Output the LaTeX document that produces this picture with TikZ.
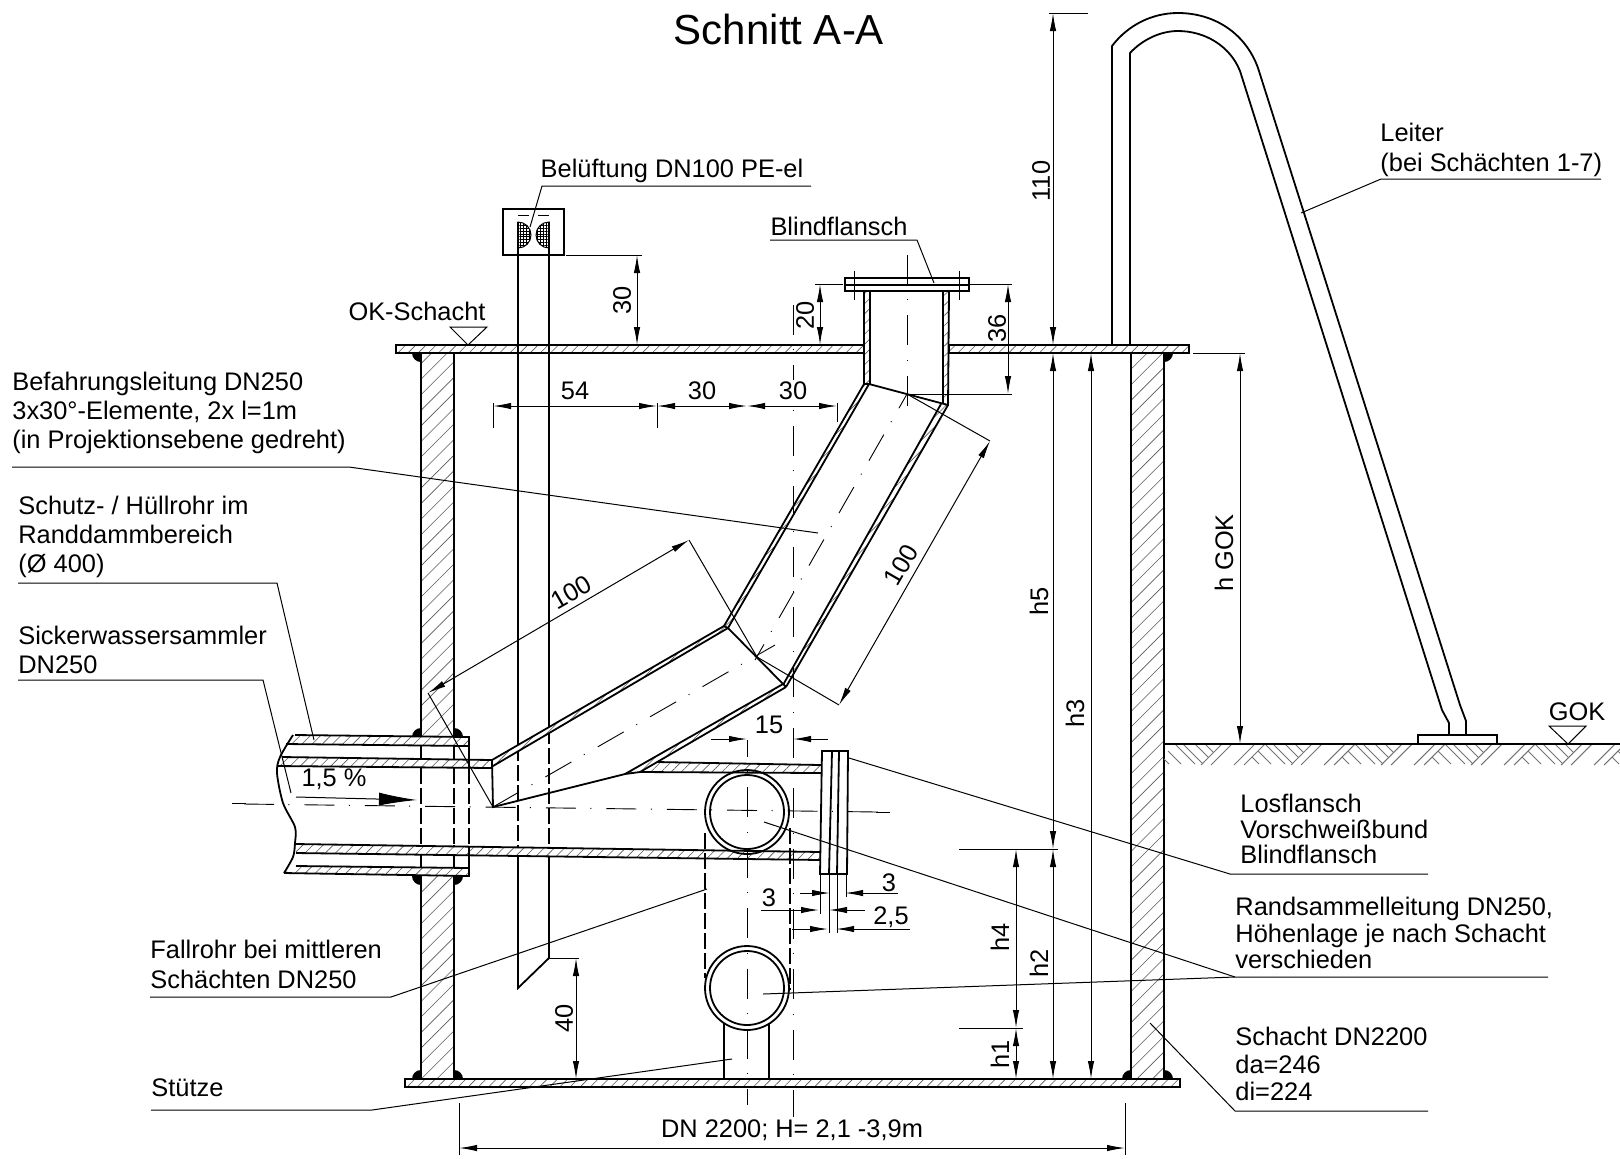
\documentclass[tikz,border=0pt]{standalone}
\usepackage{fontspec}
\setmainfont{Liberation Sans}
\usetikzlibrary{arrows.meta,patterns.meta}
\def\weldmark(#1){\fill (#1) circle (9);}
\tikzset{
	wall/.style={line width=0.9pt},
	thinline/.style={line width=0.5pt},
	dimline/.style={line width=0.5pt, {Latex[length=9pt,width=3.2pt]}-{Latex[length=9pt,width=3.2pt]}},
	dimtip/.style={line width=0.5pt, -{Latex[length=9pt,width=3.2pt]}},
	axisline/.style={line width=0.45pt, dash pattern=on 15pt off 7.2pt on 0.5pt off 7.5pt},
	hiddenline/.style={line width=0.8pt, dash pattern=on 8pt off 2pt},
	hatchwide/.style={preaction={fill=white}, pattern={Lines[angle=45,distance=5.5pt,line width=0.3pt]}, pattern color=black!65},
	hatchtight/.style={preaction={fill=white}, pattern={Lines[angle=45,distance=3.6pt,line width=0.3pt]}, pattern color=black!65},
	meshfill/.style={pattern={Hatch[angle=0,distance=1.4pt,line width=0.45pt]}, pattern color=black},
	soil/.style={line width=0.5pt, black!55},
	lbl/.style={inner sep=0pt, font=\fontsize{12.7}{14.5}\selectfont},
	txt/.style={lbl, anchor=west, align=left},
}
\begin{document}
\begin{tikzpicture}[x=0.5pt,y=-0.5pt]
	\useasboundingbox (0,0) rectangle (1620,1158);
	
	%%%%% shaft %%%%%
	\weldmark(421,353)
	\weldmark(454,1079)
	\weldmark(421,1079)
	\weldmark(1164,353)
	\weldmark(1131,1079)
	\weldmark(1164,1079)
	\weldmark(421,737)
	\weldmark(454,737)
	\weldmark(421,876)
	\weldmark(454,876)
	
	\fill[hatchwide] (421,353) rectangle (454,737);
	\fill[hatchwide] (421,876) rectangle (454,1079);
	\draw[wall] (421,353) -- (421,768);
	\draw[hiddenline] (421,768) -- (421,845);
	\draw[wall] (421,845) -- (421,1079);
	\draw[wall] (454,353) -- (454,768);
	\draw[hiddenline] (454,768) -- (454,845);
	\draw[wall] (454,845) -- (454,1079);
	\draw[wall, hatchwide] (1131,353) rectangle (1164,1079);
	
	\draw[wall, hatchtight] (396,345) rectangle (864,353);
	\draw[wall, hatchtight] (949,345) rectangle (1189,353);
	\draw[wall, hatchtight] (405,1079) rectangle (1180,1087);
	
	%%%%% ground %%%%%
	\begin{scope}
		\clip (1164,744) rectangle (1620,765);
		\foreach \i in {0,...,5} {
			\begin{scope}[shift={(1175+90*\i,744)}]
				\draw[soil] (0,0) -- ++(20,20);
				\draw[soil] (8,0) -- ++(20,20);
				\draw[soil] (20,0) -- ++(13.5,13.5);
				\draw[soil] (30,0) -- ++(8.5,8.5);
				\draw[soil] (-7,7) -- ++(13,13);
				\draw[soil] (-13,13) -- ++(7,7);
				\foreach \d in {47,57,80,90}
					\draw[soil] (\d,0) -- ++(-21,21);
			\end{scope}
		}
	\end{scope}
	\draw[wall] (1164,744) -- (1620,744);
	\draw[wall] (1418,744) -- (1418,735) -- (1497,735) -- (1497,744);
	
	%%%%% ladder %%%%%
	\draw[wall] (1112,345) -- (1112,46) .. controls (1128,25) and (1152,13) .. (1178,13) .. controls (1213,13) and (1245,32) .. (1258,68) -- (1460,705) -- (1466,721) -- (1466,735);
	\draw[wall] (1130,345) -- (1130,53) .. controls (1142,40) and (1160,31) .. (1178,31) .. controls (1205,31) and (1230,46) .. (1240,71) -- (1442,710) -- (1449,723) -- (1449,735);
	
	%%%%% vent pipe %%%%%
	\draw[wall] (503,209) rectangle (564,255);
	\draw[wall] (518,222) -- (518,745);
	\draw[wall] (549,222) -- (549,728);
	\draw[hiddenline, line width=0.55pt] (518,745) -- (518,850);
	\draw[hiddenline, line width=0.55pt] (549,728) -- (549,850);
	\draw[wall] (518,850) -- (518,988) -- (549,958) -- (549,850);
	\draw[thinline] (518,215) -- (529,215);
	\draw[thinline] (538,215) -- (549,215);
	\draw[thinline, meshfill] (518,222) arc (-90:90:13) -- cycle;
	\draw[thinline, meshfill] (549,222) arc (-90:-270:13) -- cycle;
	
	%%%%% sleeve and collector %%%%%
	\fill[hatchtight] (295,735) -- (469,737) -- (469,746) -- (286,744) -- cycle;
	\fill[hatchtight] (296,866) -- (469,868) -- (469,876) -- (284,873) -- cycle;
	\fill[hatchtight] (282,757) -- (492,760) -- (492,768) -- (277,766) -- cycle;
	\fill[hatchtight] (296,844) -- (821,852) -- (821,860) -- (296,853) -- cycle;
	\draw[wall] (295,735) -- (469,737) -- (469,768);
	\draw[hiddenline] (469,768) -- (469,845);
	\draw[wall] (469,847) -- (469,876) -- (284,873);
	\draw[wall] (286,744) -- (469,746);
	\draw[wall] (296,866) -- (469,868);
	\draw[wall] (282,757) -- (492,760) -- (492,768) -- (277,766);
	\draw[wall] (296,844) -- (821,852);
	\draw[wall] (296,853) -- (821,860);
	\draw[wall] plot[smooth] coordinates {(293,735) (280,757) (277,773) (283,803) (295,827) (295,843) (293,857) (284,873)};
	
	%%%%% bend %%%%%
	\fill[hatchtight] (492,760) -- (724,626) -- (728,628) -- (493,766) -- cycle;
	\fill[hatchtight] (625,774) -- (783,684) -- (786,687) -- (640,772) -- cycle;
	\fill[hatchtight] (724,626) -- (864,384) -- (869,384) -- (728,628) -- cycle;
	\fill[hatchtight] (783,685) -- (941,404) -- (948,405) -- (786,687) -- cycle;
	\fill[hatchtight] (657,762) -- (821,765) -- (821,773) -- (640,772) -- cycle;
	\draw[wall] (492,760) -- (724,626) -- (864,384);
	\draw[wall] (493,766) -- (728,628) -- (869,384);
	\draw[wall] (728,628) -- (786,687);
	\draw[wall] (724,626) -- (728,628);
	\draw[wall] (783,684) -- (625,774);
	\draw[wall] (786,687) -- (640,772);
	\draw[wall] (783,685) -- (941,404);
	\draw[wall] (786,687) -- (948,405);
	\draw[wall] (492,760) -- (493,807) -- (625,774) -- (640,772) -- (821,773);
	\draw[wall] (657,762) -- (821,765);
	
	%%%%% riser with blind flange %%%%%
	\fill[hatchtight] (864,291) rectangle (870,384);
	\fill[hatchtight] (943,291) rectangle (949,405);
	\draw[wall] (864,291) -- (864,384) -- (869,384) -- (948,405) -- (949,291);
	\draw[wall] (870,291) -- (870,384);
	\draw[wall] (943,291) -- (943,404);
	\draw[wall] (845,278) rectangle (969,291);
	\draw[wall] (845,285) -- (969,285);
	
	%%%%% flange at collector %%%%%
	\draw[wall, fill=white] (822,751) -- (848,751) -- (847,874) -- (820,874) -- cycle;
	\draw[wall] (832,751) -- (829,874);
	\draw[wall] (839,751) -- (837,874);
	
	%%%%% ring pipes %%%%%
	\draw[wall] (747,812) circle (42);
	\draw[wall] (747,812) circle (37);
	\draw[wall] (747,988) circle (42);
	\draw[wall] (747,988) circle (37);
	\draw[wall] (724,1023) -- (724,1079);
	\draw[wall] (769,1023) -- (769,1079);
	\draw[hiddenline] (705,833) -- (705,978);
	\draw[hiddenline] (790,828) -- (790,990);
	
	%%%%% axes %%%%%
	\draw[thinline] (232,803) -- (246,803);
	\draw[axisline] (244,804) -- (878,812);
	\draw[thinline] (876,812) -- (890,812);
	\draw[axisline, dash phase=6.5pt] (747,740) -- (747,1105);
	\draw[axisline] (793,305) -- (793,1117);
	\draw[axisline] (907,255) -- (907,411);
	\draw[axisline] (493,807) -- (775,645);
	\draw[axisline, dash phase=6pt] (755,660) -- (907,394);
	\draw[thinline] (854,271) -- (854,300);
	\draw[thinline] (959,271) -- (959,300);
	
	%%%%% dimensions %%%%%
	\draw[thinline] (566,255) -- (642,255);
	\draw[dimline] (637,255) -- (637,345);
	\node[lbl, rotate=90] (dimVent) at (622,300) {30};
	
	\draw[thinline] (549,958) -- (579,958);
	\draw[dimline] (576,958) -- (576,1079);
	\node[lbl, rotate=90] (dimCut) at (564,1018) {40};
	
	\draw[thinline] (815,284) -- (843,284);
	\draw[dimline] (820,284) -- (820,345);
	\node[lbl, rotate=90] (dimRiserA) at (805,315) {20};
	
	\draw[thinline] (970,284) -- (1012,284);
	\draw[thinline] (907,394) -- (1012,394);
	\draw[dimline] (1008,284) -- (1008,394);
	\node[lbl, rotate=90] (dimRiserB) at (997,328) {36};
	
	\draw[thinline] (493,403) -- (493,428);
	\draw[thinline] (657,403) -- (657,428);
	\draw[thinline] (837,403) -- (837,422);
	\draw[dimline] (493,406) -- (657,406);
	\draw[dimline] (657,406) -- (747,406);
	\draw[dimline] (747,406) -- (837,406);
	\node[lbl] (dimA) at (575,391) {54};
	\node[lbl] (dimB) at (702,391) {30};
	\node[lbl, fill=white, inner sep=1pt] (dimC) at (793,391) {30};
	
	\draw[thinline] (428,693) -- (493,807);
	\draw[thinline] (689,540) -- (757,657);
	\draw[dimline] (428,693) -- (689,540);
	\node[lbl, rotate=30] (dimLow) at (571,592) {100};
	
	\draw[thinline] (907,394) -- (990,441);
	\draw[thinline] (757,657) -- (839,705);
	\draw[dimline] (990,441) -- (839,705);
	\node[lbl, rotate=60] (dimUp) at (901,565) {100};
	
	\draw[dimtip] (711,739) -- (747,739);
	\draw[dimtip] (828,739) -- (793,739);
	\node[lbl] (dimAxis) at (769,725) {15};
	
	\draw[thinline] (820,874) -- (820,914);
	\draw[thinline] (829,874) -- (829,933);
	\draw[thinline] (837,874) -- (837,933);
	\draw[thinline] (846,874) -- (846,897);
	\draw[dimtip] (800,893) -- (830,893);
	\draw[dimtip] (898,893) -- (845,893);
	\node[lbl] (dimFlangeA) at (889,883) {3};
	\draw[dimtip] (761,910) -- (819,910);
	\draw[dimtip] (865,910) -- (829,910);
	\node[lbl] (dimFlangeB) at (769,898) {3};
	\draw[dimtip] (792,929) -- (828,929);
	\draw[dimtip] (910,929) -- (836,929);
	\node[lbl] (dimFlangeC) at (891,917) {2,5};
	
	\draw[thinline] (1049,13) -- (1088,13);
	\draw[dimline] (1053,13) -- (1053,345);
	\node[lbl, rotate=90] (dimTop) at (1041,181) {110};
	
	\draw[thinline] (959,849) -- (1058,849);
	\draw[dimline] (1053,353) -- (1053,849);
	\node[lbl, rotate=90] (dimHfive) at (1039,601) {h5};
	\draw[dimline] (1053,849) -- (1053,1079);
	\node[lbl, rotate=90] (dimHtwo) at (1039,963) {h2};
	\draw[dimline] (1091,353) -- (1091,1079);
	\node[lbl, rotate=90] (dimHthree) at (1075,713) {h3};
	
	\draw[thinline] (959,1028) -- (1023,1028);
	\draw[dimline] (1016,849) -- (1016,1028);
	\node[lbl, rotate=90] (dimHfour) at (1000,937) {h4};
	\draw[dimline] (1016,1028) -- (1016,1079);
	\node[lbl, rotate=90] (dimHone) at (1000,1054) {h1};
	
	\draw[thinline] (1193,353) -- (1245,353);
	\draw[dimline] (1240,353) -- (1240,744);
	\node[lbl, rotate=90] (dimGround) at (1224,553) {h GOK};
	
	\draw[thinline] (459,1103) -- (459,1155);
	\draw[thinline] (1125,1103) -- (1125,1155);
	\draw[dimline] (459,1148) -- (1125,1148);
	\node[lbl] (dimShaft) at (792,1130) {DN 2200; H= 2,1 -3,9m};
	
	%%%%% level marks %%%%%
	\draw[thinline] (450,327) -- (487,327) -- (468,345) -- cycle;
	\draw[thinline] (1549,726) -- (1586,726) -- (1568,744) -- cycle;
	\node[lbl] (levelShaft) at (417,311) {OK-Schacht};
	\node[lbl] (levelGround) at (1577,712) {GOK};
	
	%%%%% slope %%%%%
	\draw[line width=0.5pt, -{Latex[length=19pt,width=6.5pt]}] (296,797) -- (417,800);
	\node[lbl] (slope) at (334,779) {1,5 \%};
	
	%%%%% labels and leaders %%%%%
	\node[lbl, font=\fontsize{21}{24}\selectfont] (title) at (779,29) {Schnitt A-A};
	
	\node[lbl] (vent) at (672,171) {Belüftung DN100 PE-el};
	\draw[thinline] (811,186) -- (542,186) -- (530,227);
	
	\node[lbl] (blindTop) at (839,226) {Blindflansch};
	\draw[thinline] (770,240) -- (917,240) -- (934,283);
	
	\node[txt, font=\fontsize{12.7}{15}\selectfont] (ladder) at (1380,150) {Leiter\\(bei Schächten 1-7)};
	\draw[thinline] (1601,179) -- (1381,179) -- (1301,213);
	
	\node[txt] (access) at (12,413) {Befahrungsleitung DN250\\3x30°-Elemente, 2x l=1m\\(in Projektionsebene gedreht)};
	\draw[thinline] (12,467) -- (349,467) -- (818,533);
	
	\node[txt] (sleeve) at (18,537) {Schutz- / Hüllrohr im\\Randdammbereich\\(Ø 400)};
	\draw[thinline] (18,583) -- (277,583) -- (314,740);
	
	\node[txt] (collector) at (18,650) {Sickerwassersammler\\DN250};
	\draw[thinline] (18,680) -- (263,680) -- (291,793);
	
	\node[txt, font=\fontsize{12.7}{15}\selectfont] (drop) at (150,964) {Fallrohr bei mittleren\\Schächten DN250};
	\draw[thinline] (150,997) -- (391,997) -- (707,889);
	
	\node[txt] (support) at (151,1088) {Stütze};
	\draw[thinline] (151,1110) -- (372,1110) -- (732,1059);
	
	\node[txt, font=\fontsize{12.7}{12.9}\selectfont] (flanges) at (1240,829) {Losflansch\\Vorschweißbund\\Blindflansch};
	\draw[thinline] (1428,874) -- (1230,874) -- (849,758);
	
	\node[txt, font=\fontsize{12.7}{13.4}\selectfont] (ring) at (1235,933) {Randsammelleitung DN250,\\Höhenlage je nach Schacht\\verschieden};
	\draw[thinline] (1548,977) -- (1235,977) -- (763,994);
	\draw[thinline] (1235,977) -- (764,822);
	
	\node[txt, font=\fontsize{12.7}{13.7}\selectfont] (shaft) at (1235,1064) {Schacht DN2200\\da=246\\di=224};
	\draw[thinline] (1428,1111) -- (1235,1111) -- (1150,1023);
\end{tikzpicture}
\end{document}
